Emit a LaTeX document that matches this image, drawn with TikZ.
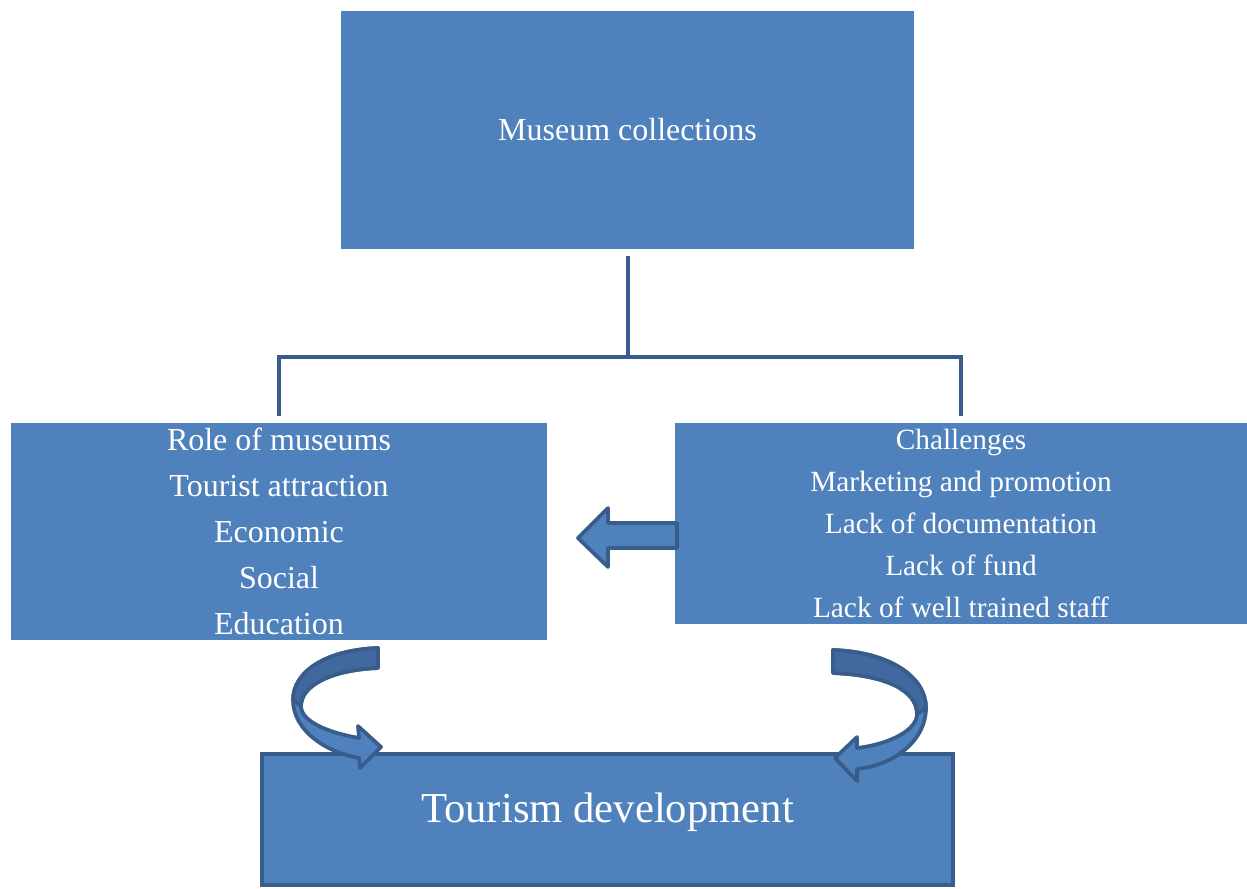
\documentclass[tikz,border=0pt]{standalone}
\usepackage{fontspec}
\setmainfont{Liberation Serif}
\usepackage{tikz}

\definecolor{boxblue}{HTML}{4F81BD}
\definecolor{edgeblue}{HTML}{385D8A}
\definecolor{backblue}{HTML}{41699F}

\tikzset{
  box/.style={rectangle, fill=boxblue, text=white, align=center, inner sep=0pt},
  link/.style={draw=edgeblue, line width=1.5pt},
  blockarrow/.style={fill=boxblue, draw=edgeblue, line width=1.4pt, line join=round},
  curlback/.style={blockarrow, fill=backblue},
}

\begin{document}
\begin{tikzpicture}[x=0.375pt, y=-0.375pt]
        \useasboundingbox (0,0) rectangle (1247,888);

        \node [box, minimum width=214.9pt, minimum height=89.25pt, font=\fontsize{12}{14}\selectfont] (coll) at (627.5,130) {Museum collections};
        \node [box, minimum width=201pt, minimum height=81.4pt, font=\fontsize{12}{17.25}\selectfont] (role) at (279,531.5)
            {Role of museums\\Tourist attraction\\Economic\\Social\\Education};
        \node [box, minimum width=214.5pt, minimum height=75.4pt, font=\fontsize{11}{15.75}\selectfont] (chal) at (961,523.5)
            {Challenges\\Marketing and promotion\\Lack of documentation\\Lack of fund\\Lack of well trained staff};
        \node [box, draw=edgeblue, line width=1.5pt, minimum width=259.1pt, minimum height=49.1pt,
            font=\fontsize{16}{19}\selectfont, text height=11pt, text depth=9pt] (dev) at (607.5,819.5) {Tourism development};

        \coordinate (split) at (627.5,357);
        \draw [link] ([yshift=-2.6pt]coll.south) -- (split);
        \draw [link] ([yshift=2.6pt]role.north) |- (split) -| ([yshift=2.6pt]chal.north);

        \draw [blockarrow] (677,523) -- (608,523) -- (608,508) -- (578,538) -- (608,567) -- (608,548) -- (677,548) -- cycle;

        % left curl
        \filldraw [blockarrow] (378,648) .. controls (325,650) and (293,672) .. (293,700)
            .. controls (293,730) and (325,752) .. (359,758) -- (360,768) -- (381,747)
            -- (358,726) -- (359,738) .. controls (330,733) and (301,722) .. (301,706)
            .. controls (301,686) and (330,670) .. (378,668) -- cycle;
        \filldraw [curlback] (378,648) .. controls (325,650) and (293,672) .. (293,700)
            -- (301,706) .. controls (301,686) and (330,670) .. (378,668) -- cycle;

        % right curl
        \filldraw [blockarrow] (833,650) .. controls (890,652) and (926,677) .. (926,708)
            .. controls (926,740) and (895,765) .. (857,769) -- (857,781) -- (835,758)
            -- (857,737) -- (857,748) .. controls (890,744) and (917,730) .. (917,714)
            .. controls (917,690) and (885,675) .. (833,673) -- cycle;
        \filldraw [curlback] (833,650) .. controls (890,652) and (926,677) .. (926,708)
            -- (917,714) .. controls (917,690) and (885,675) .. (833,673) -- cycle;
    \end{tikzpicture}
\end{document}
